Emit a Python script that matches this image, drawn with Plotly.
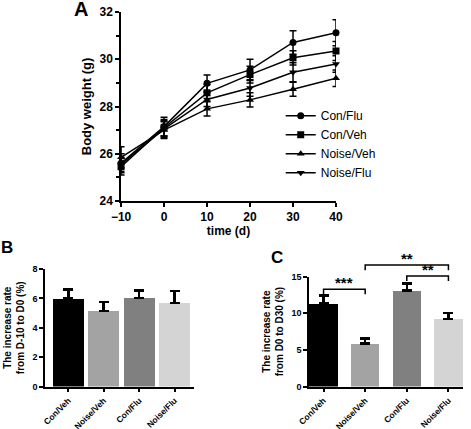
import plotly.graph_objects as go

# ---------------- data ----------------
days = [-10, 0, 10, 20, 30, 40]
series_names = ["Con/Flu", "Con/Veh", "Noise/Veh", "Noise/Flu"]
con_flu = [25.6, 27.15, 28.98, 29.55, 30.71, 31.12]
con_veh = [25.45, 27.1, 28.58, 29.35, 30.06, 30.35]
noise_veh = [25.85, 27.0, 27.9, 28.28, 28.73, 29.2]
noise_flu = [25.55, 27.05, 28.3, 28.78, 29.45, 29.8]
con_flu_err = [0.4, 0.4, 0.35, 0.45, 0.5, 0.55]
con_veh_err = [0.35, 0.35, 0.35, 0.35, 0.3, 0.4]
noise_veh_err = [0.45, 0.35, 0.3, 0.3, 0.3, 0.35]
noise_flu_err = [0.3, 0.35, 0.3, 0.35, 0.4, 0.35]

bar_groups = ["Con/Veh", "Noise/Veh", "Con/Flu", "Noise/Flu"]
rate_b = [5.98, 5.15, 6.02, 5.7]
rate_b_err = [0.62, 0.6, 0.5, 0.8]
rate_c = [11.35, 5.85, 13.1, 9.2]
rate_c_err = [1.1, 0.7, 0.95, 0.85]
bar_colors = ["#000000", "#a3a3a3", "#808080", "#d4d4d4"]

# significance brackets for panel C: (left idx, right idx, height, label)
sig_left = [0, 1, 2]
sig_right = [1, 3, 3]
sig_height = [13.3, 16.6, 15.1]
sig_label = ["***", "**", "**"]

FONT = "Arial, Liberation Sans, sans-serif"
series_vals = [con_flu, con_veh, noise_veh, noise_flu]
series_errs = [con_flu_err, con_veh_err, noise_veh_err, noise_flu_err]
symbols = ["circle", "square", "triangle-up", "triangle-down"]

fig = go.Figure()
for name, vals, errs, sym in zip(series_names, series_vals, series_errs, symbols):
    fig.add_trace(go.Scatter(
        x=days, y=vals, name=name, mode="lines+markers",
        line=dict(color="black", width=1.5),
        marker=dict(symbol=sym, size=7, color="black"),
        error_y=dict(type="data", array=errs, color="black", thickness=1.5, width=3.5),
        xaxis="x", yaxis="y", cliponaxis=False,
    ))

xb = list(range(len(bar_groups)))
fig.add_trace(go.Bar(
    x=xb, y=rate_b, marker=dict(color=bar_colors, line=dict(width=0)), width=0.88,
    error_y=dict(type="data", array=rate_b_err, arrayminus=[0] * 4, symmetric=False,
                 color="black", thickness=2.5, width=5),
    xaxis="x2", yaxis="y2", showlegend=False,
))
fig.add_trace(go.Bar(
    x=xb, y=rate_c, marker=dict(color=bar_colors, line=dict(width=0)), width=0.68,
    error_y=dict(type="data", array=rate_c_err, arrayminus=[0] * 4, symmetric=False,
                 color="black", thickness=2.5, width=5),
    xaxis="x3", yaxis="y3", showlegend=False,
))

axis_common = dict(showline=True, linecolor="black", linewidth=1.5, ticks="outside",
                   ticklen=4, tickwidth=1.5, tickcolor="black", showgrid=False,
                   zeroline=False, mirror=False, automargin=False)

yB_dom = [0.099, 0.373]
yC_dom = [0.099, 0.355]
yC_max = 15

fig.update_layout(
    width=471, height=429, margin=dict(l=0, r=0, t=0, b=0, autoexpand=False),
    paper_bgcolor="white", plot_bgcolor="white",
    font=dict(family=FONT, color="black"),
    xaxis=dict(domain=[0.257, 0.7134], range=[-10, 40], tickvals=days,
               tickfont=dict(size=12, family=FONT, weight="bold"),
               title=dict(text="<b>time (d)</b>", font=dict(size=12), standoff=1),
               anchor="y", **axis_common),
    yaxis=dict(domain=[0.5315, 0.972], range=[24, 32], dtick=2,
               tickfont=dict(size=12, family=FONT, weight="bold"),
               minor=dict(dtick=1, ticks="outside", ticklen=3, tickcolor="black", tickwidth=1.5),
               title=dict(text="<b>Body weight (g)</b>", font=dict(size=13), standoff=5),
               anchor="x", **axis_common),
    xaxis2=dict(domain=[0.0955, 0.4119], range=[-0.66, 3.55], tickvals=xb, ticktext=bar_groups,
                tickangle=-45, tickfont=dict(size=8.5, weight="bold"), anchor="y2", **axis_common),
    yaxis2=dict(domain=yB_dom, range=[0, 8], dtick=2, tickfont=dict(size=9, weight="bold"),
                title=dict(text="<b>The increase rate<br>from D-10 to D0 (%)</b>",
                           font=dict(size=10), standoff=6),
                anchor="x2", **axis_common),
    xaxis3=dict(domain=[0.656, 0.983], range=[-0.35, 3.35], tickvals=xb, ticktext=bar_groups,
                tickangle=-45, tickfont=dict(size=8.5, weight="bold"), anchor="y3", **axis_common),
    yaxis3=dict(domain=yC_dom, range=[0, yC_max], dtick=5, tickfont=dict(size=9, weight="bold"),
                title=dict(text="<b>The increase rate<br>from D0 to D30 (%)</b>",
                           font=dict(size=10), standoff=6),
                anchor="x3", **axis_common),
    legend=dict(x=0.596, y=0.764, xanchor="left", yanchor="top",
                font=dict(size=12, family=FONT), bgcolor="rgba(0,0,0,0)",
                tracegroupgap=0, itemwidth=30),
    bargap=0,
)


def c_paper(v):
    return yC_dom[0] + v / yC_max * (yC_dom[1] - yC_dom[0])


drop = 0.012
for l, r, h, lab in zip(sig_left, sig_right, sig_height, sig_label):
    yp = c_paper(h)
    fig.add_shape(type="path", xref="x3", yref="paper",
                  path=f"M {l},{yp - drop} L {l},{yp} L {r},{yp} L {r},{yp - drop}",
                  line=dict(color="black", width=1.5))
    fig.add_annotation(x=(l + r) / 2, y=yp, xref="x3", yref="paper", text=f"<b>{lab}</b>",
                       showarrow=False, yanchor="bottom", yshift=-4,
                       font=dict(size=15, family=FONT))

for lab, x, y, sz in [("A", 80.5 / 471, 1 - 9.5 / 429, 20),
                      ("B", 6.5 / 471, 1 - 247.5 / 429, 17),
                      ("C", 276.5 / 471, 1 - 257.5 / 429, 17)]:
    fig.add_annotation(x=x, y=y, xref="paper", yref="paper", text=f"<b>{lab}</b>",
                       showarrow=False, xanchor="center", yanchor="middle",
                       font=dict(size=sz, family=FONT))

fig.write_html("out.html", config={"displayModeBar": False},
               post_script="document.body.style.margin='0';")
